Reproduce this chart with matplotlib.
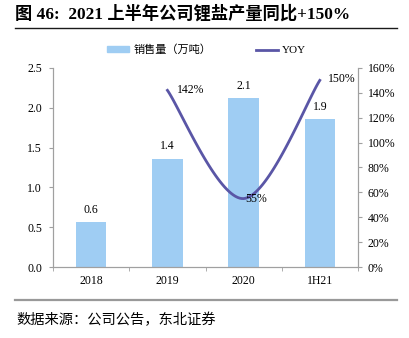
import numpy as np
import matplotlib.pyplot as plt
from matplotlib.lines import Line2D
from matplotlib.patches import Patch

plt.rcParams['font.family'] = ['Liberation Serif', 'Noto Sans CJK SC']

years = ['2018', '2019', '2020', '1H21']
sales = [0.56, 1.36, 2.12, 1.86]          # 万吨
yoy = [None, 142, 55, 150]                 # %

bar_color = '#9fcdf3'
line_color = '#5a56a6'
axis_color = '#a0a0a0'


def catmull_rom(xs, ys, n=40):
    # smooth curve through the points, like a spreadsheet's smoothed line
    px = [xs[0]] + list(xs) + [xs[-1]]
    py = [ys[0]] + list(ys) + [ys[-1]]
    out_x, out_y = [], []
    for i in range(1, len(px) - 2):
        t = np.linspace(0, 1, n)
        for p, out in ((px, out_x), (py, out_y)):
            p0, p1, p2, p3 = p[i - 1], p[i], p[i + 1], p[i + 2]
            out.extend(0.5 * ((2 * p1) + (-p0 + p2) * t
                              + (2 * p0 - 5 * p1 + 4 * p2 - p3) * t ** 2
                              + (-p0 + 3 * p1 - 3 * p2 + p3) * t ** 3))
    return out_x, out_y


fig = plt.figure(figsize=(4.09, 3.38), dpi=100)
ax = fig.add_axes([0.13, 0.21, 0.745, 0.589])
x = np.arange(len(years))

ax.bar(x, sales, width=0.4, color=bar_color, zorder=2)
for xi, v in zip(x, sales):
    ax.text(xi, v + 0.08, f'{v:.1f}', ha='center', va='bottom', fontsize=8.5)

ax.set_xlim(-0.5, 3.5)
ax.set_ylim(0, 2.5)
ax.set_yticks(np.arange(0, 2.51, 0.5))
ax.set_yticklabels([f'{v:.1f}' for v in np.arange(0, 2.51, 0.5)], fontsize=8.5)
ax.set_xticks(x)
ax.set_xticklabels(years, fontsize=8.5)
ax.set_xticks(np.arange(-0.5, 3.6, 1), minor=True)
ax.tick_params(axis='x', which='major', length=0, pad=6)
ax.tick_params(axis='x', which='minor', length=3, color=axis_color)
ax.tick_params(axis='y', length=3, color=axis_color, pad=5)
ax.spines['top'].set_visible(False)
for s in ('left', 'right', 'bottom'):
    ax.spines[s].set_color(axis_color)

ax2 = ax.twinx()
yx = [xi for xi, v in zip(x, yoy) if v is not None]
yv = [v for v in yoy if v is not None]
cx, cy = catmull_rom(yx, yv)
ax2.plot(cx, cy, color=line_color, lw=2, zorder=3)
ax2.set_ylim(0, 160)
ax2.set_yticks(np.arange(0, 161, 20))
ax2.set_yticklabels([f'{v}%' for v in range(0, 161, 20)], fontsize=8.5)
ax2.tick_params(axis='y', length=3, color=axis_color, pad=4)
ax2.spines['top'].set_visible(False)
for s in ('left', 'right', 'bottom'):
    ax2.spines[s].set_color(axis_color)

offsets = {1: (0.3, 0, 'center', 'center'),
           2: (0.16, 0, 'center', 'center'),
           3: (0.29, 1, 'center', 'center')}
for xi, v in zip(yx, yv):
    dx, dy, ha, va = offsets[xi]
    ax2.text(xi + dx, v + dy, f'{v}%', ha=ha, va=va, fontsize=8.5)

handles = [Patch(color=bar_color), Line2D([], [], color=line_color, lw=2)]
fig.legend(handles, ['销售量（万吨）', 'YOY'], loc='center',
           bbox_to_anchor=(0.505, 0.852), ncol=2, frameon=False,
           fontsize=8, handlelength=2, handleheight=0.45,
           columnspacing=4, handletextpad=0.4)

fig.text(0.037, 0.96, '图 46:  2021 上半年公司锂盐产量同比+150%',
         fontsize=12.4, fontweight='bold', va='center', ha='left')

# rules under the title and above the source note, on an overlay axes
frame = fig.add_axes([0, 0, 1, 1], zorder=5)
frame.set_xlim(0, 1)
frame.set_ylim(0, 1)
frame.axis('off')
frame.plot([0.037, 0.971], [0.918, 0.918], color='#1a1a1a', lw=1.0)
frame.plot([0.037, 0.971], [0.112, 0.112], color='#999999', lw=1.6)

fig.text(0.039, 0.053, '数据来源：公司公告，东北证券', fontsize=10.3,
         va='center', ha='left')

fig.savefig('out.png', dpi=100)
